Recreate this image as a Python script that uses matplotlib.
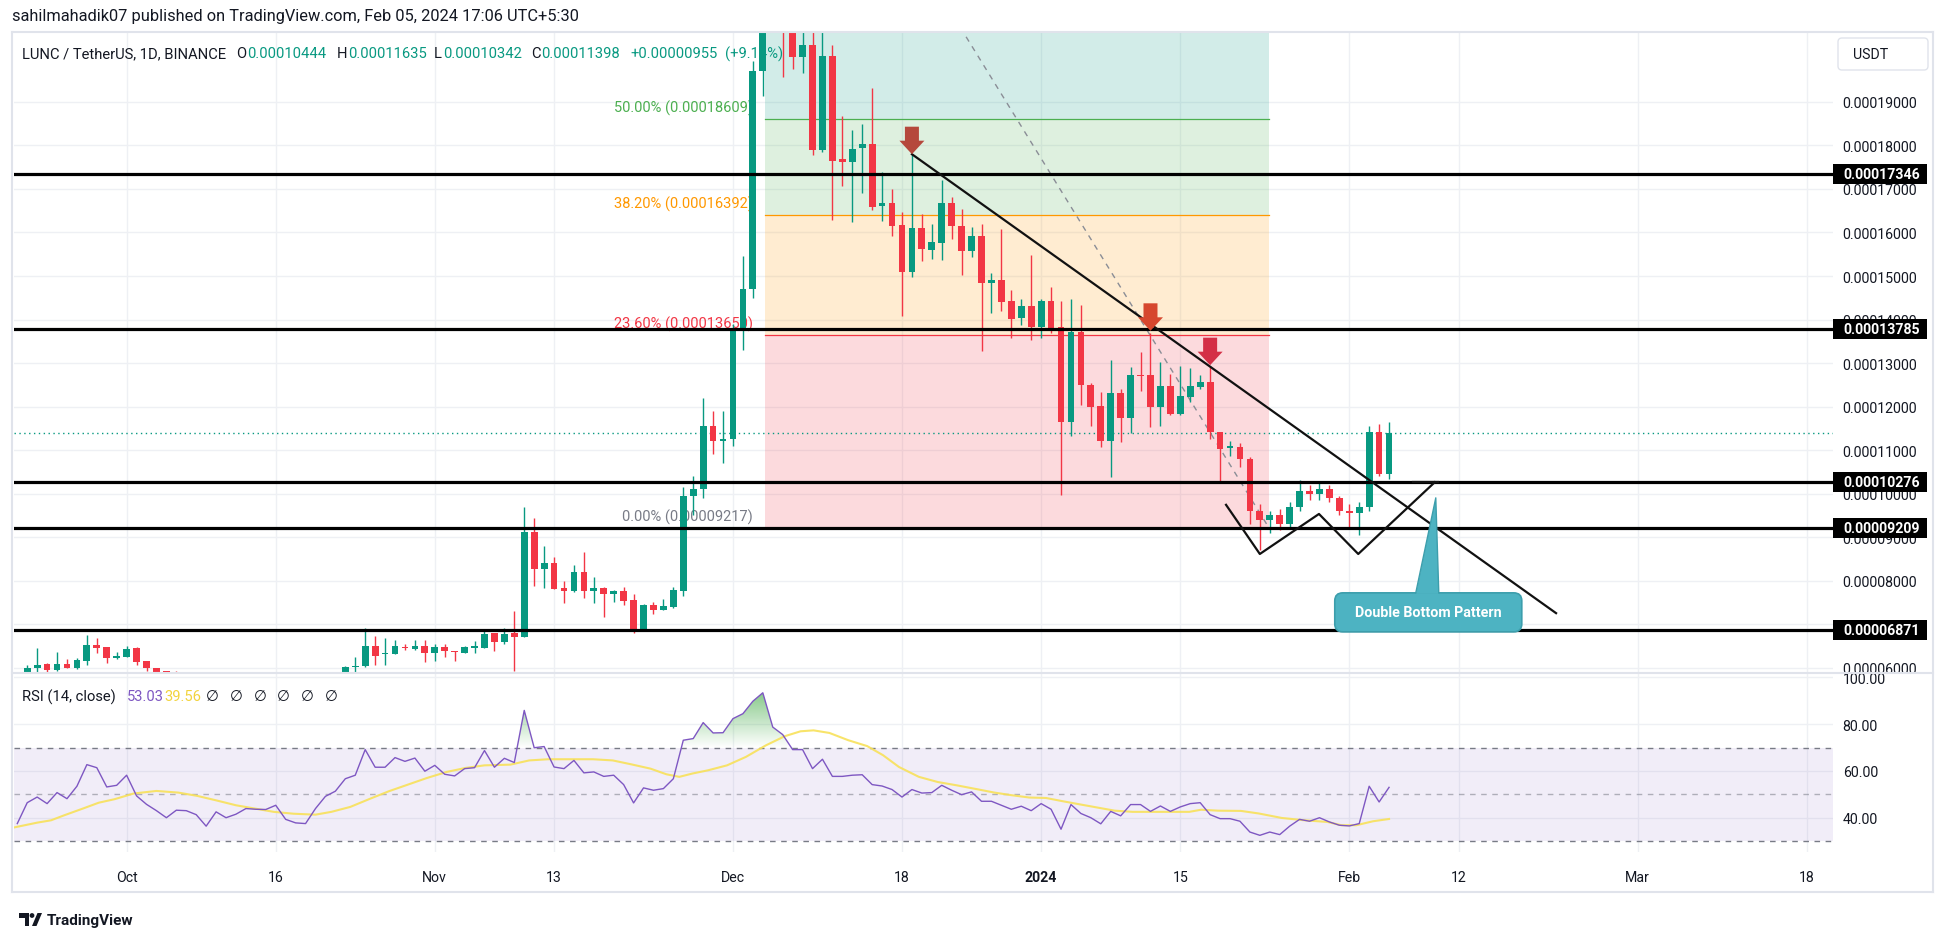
import numpy as np
import pandas as pd
import matplotlib
matplotlib.use("Agg")
import matplotlib.pyplot as plt
import matplotlib.dates as mdates
from matplotlib.patches import Polygon, Rectangle, FancyBboxPatch, Circle
from matplotlib.transforms import IdentityTransform
from matplotlib.path import Path
from matplotlib.colors import to_rgb

plt.rcParams['font.family'] = ['Roboto', 'DejaVu Sans']

# ---------------- data (prices in units of 1e-5 USDT) ----------------
UNIT = 1e-5
seg_a_start, seg_a_len = '2023-09-21', 16          # visible candles before the off-chart dip
seg_b_start, seg_b_end = '2023-10-23', '2024-02-05'

opens = [5.88, 5.98, 6.07, 5.95, 6.08, 5.99, 6.16, 6.52, 6.48, 6.22, 6.25, 6.44, 6.16, 5.99, 5.915, 5.82,
         5.85, 6.01, 6.045, 6.50, 6.30, 6.30, 6.48, 6.43, 6.50, 6.34, 6.47, 6.37, 6.34, 6.46, 6.45, 6.80, 6.59, 6.80,
         6.71, 9.12, 8.275, 8.405, 7.83, 7.75, 8.20, 7.75, 7.83, 7.70, 7.77, 7.555, 6.88, 7.44, 7.33, 7.39,
         7.77, 9.95, 10.10, 11.55, 11.20, 11.25, 13.75, 14.69, 19.71, 23.5, 21.6, 20.9, 20.03, 20.31, 17.90,
         20.06, 17.69, 17.62, 17.94, 18.03, 16.61, 16.68, 16.17, 15.09, 16.10, 15.60, 15.76, 16.68, 16.15, 15.57,
         15.92, 14.84, 14.91, 14.43, 14.03, 14.31, 13.83, 14.43, 13.83, 11.64, 13.71, 12.49, 12.01, 11.21, 12.31,
         11.74, 12.72, 12.72, 11.99, 12.47, 11.83, 12.22, 12.45, 12.56, 11.41, 11.05, 11.07, 10.79, 9.60, 9.40,
         9.50, 9.30, 9.70, 10.05, 9.98, 10.10, 9.90, 9.60, 9.55, 9.70, 11.42, 10.444]
highs = [6.05, 6.44, 6.11, 6.36, 6.20, 6.22, 6.75, 6.68, 6.48, 6.35, 6.49, 6.47, 6.16, 5.99, 5.915, 5.915,
         6.03, 6.24, 6.90, 6.73, 6.68, 6.64, 6.54, 6.64, 6.635, 6.54, 6.54, 6.37, 6.50, 6.62, 6.85, 6.80, 6.91, 7.31,
         9.70, 9.44, 8.80, 8.55, 8.00, 8.35, 8.65, 8.08, 7.85, 7.79, 7.85, 7.69, 7.46, 7.51, 7.585, 7.85,
         10.15, 10.40, 12.20, 11.90, 11.90, 13.90, 15.46, 19.94, 24.0, 24.2, 22.0, 21.2, 20.9, 21.0, 20.8,
         20.31, 18.68, 18.36, 18.49, 19.32, 17.39, 17.00, 16.47, 17.80, 16.43, 16.20, 17.21, 16.82, 16.54, 16.13,
         16.20, 15.07, 16.08, 14.68, 14.47, 15.48, 14.47, 14.75, 14.43, 14.47, 14.33, 12.55, 12.33, 13.07, 12.40,
         12.91, 13.25, 13.69, 13.02, 12.75, 12.93, 12.89, 12.72, 12.93, 11.41, 11.21, 11.15, 10.85, 9.75, 9.60,
         9.65, 9.80, 10.30, 10.20, 10.25, 10.20, 9.95, 9.75, 9.80, 11.55, 11.60, 11.635]
lows = [5.85, 5.85, 5.85, 5.93, 5.98, 5.97, 6.05, 6.34, 6.11, 6.19, 6.25, 6.05, 5.93, 5.80, 5.78, 5.75,
        5.80, 5.88, 6.01, 6.05, 6.05, 6.30, 6.40, 6.40, 6.13, 6.14, 6.25, 6.16, 6.34, 6.34, 6.45, 6.39, 6.54, 5.93,
        6.70, 7.88, 7.83, 7.80, 7.49, 7.74, 7.60, 7.49, 7.17, 7.51, 7.43, 6.80, 6.88, 7.24, 7.33, 7.36,
        7.65, 9.50, 9.90, 10.90, 10.70, 11.10, 13.30, 14.50, 19.14, 21.0, 19.57, 19.76, 19.67, 17.78, 17.85,
        16.29, 17.07, 16.24, 16.91, 16.52, 16.26, 15.92, 14.08, 14.98, 15.34, 15.39, 15.37, 15.85, 15.02, 15.44,
        13.28, 14.15, 14.20, 13.57, 13.87, 13.53, 13.57, 13.69, 9.97, 11.32, 12.03, 11.55, 11.07, 10.38, 11.18,
        11.39, 12.36, 11.53, 11.55, 11.80, 11.80, 12.10, 12.40, 11.25, 10.26, 10.86, 10.60, 9.30, 8.70, 9.10,
        9.15, 9.20, 9.60, 9.85, 9.85, 9.80, 9.50, 9.20, 9.05, 9.60, 10.40, 10.342]
closes = [5.98, 6.06, 5.95, 6.08, 5.99, 6.18, 6.52, 6.45, 6.22, 6.27, 6.43, 6.13, 5.98, 5.85, 5.82, 5.80,
          6.01, 6.045, 6.50, 6.27, 6.31, 6.50, 6.44, 6.50, 6.34, 6.48, 6.37, 6.36, 6.48, 6.47, 6.77, 6.59, 6.77, 6.71,
          9.12, 8.275, 8.405, 7.815, 7.75, 8.20, 7.77, 7.83, 7.70, 7.77, 7.54, 6.88, 7.44, 7.33, 7.42, 7.78,
          9.95, 10.10, 11.55, 11.20, 11.25, 13.75, 14.69, 19.71, 23.5, 21.6, 20.9, 20.03, 20.31, 17.90, 20.06,
          17.64, 17.62, 17.92, 18.03, 16.59, 16.68, 16.15, 15.09, 16.10, 15.62, 15.78, 16.68, 16.15, 15.57, 15.92,
          14.84, 14.91, 14.40, 14.01, 14.31, 13.83, 14.43, 13.80, 11.64, 13.71, 12.49, 11.99, 11.21, 12.31, 11.74,
          12.72, 12.70, 11.99, 12.47, 11.83, 12.24, 12.47, 12.56, 11.41, 11.02, 11.09, 10.79, 9.60, 9.40, 9.50,
          9.30, 9.70, 10.05, 9.98, 10.10, 9.90, 9.60, 9.55, 9.70, 11.42, 10.444, 11.398]

rsi_start, rsi_end = '2023-09-20', '2024-02-05'
rsi_vals = [37.6, 46.5, 48.9, 46.1, 50.8, 48.2, 53.5, 62.7, 61.4, 53.2, 53.9, 58.2, 49.4, 45.8, 43.1, 40.1,
            43.3, 43.1, 41.4, 36.5, 42.6, 40.1, 41.6, 44.0, 43.7, 43.6, 45.4, 39.4, 37.9, 37.6, 44.0, 49.2,
            51.4, 56.7, 58.2, 69.1, 61.6, 61.6, 65.7, 64.1, 65.5, 59.9, 62.4, 58.6, 57.9, 61.0, 61.4, 68.7,
            61.6, 65.4, 63.6, 85.8, 69.9, 70.4, 61.7, 61.0, 64.5, 59.2, 59.6, 57.7, 58.2, 54.2, 46.4, 52.8,
            51.8, 52.5, 56.7, 73.1, 73.8, 80.6, 76.2, 76.3, 82.3, 84.4, 89.7, 93.3, 78.7, 75.5, 69.1, 69.1,
            61.0, 65.0, 57.7, 57.7, 58.2, 58.4, 54.2, 53.6, 52.1, 48.9, 52.1, 50.6, 50.8, 53.9, 51.8, 49.9,
            51.1, 47.1, 47.1, 45.4, 43.7, 45.0, 43.1, 46.1, 43.7, 35.2, 45.7, 41.9, 40.1, 37.5, 42.8, 40.9,
            45.7, 45.7, 42.8, 45.1, 42.8, 44.7, 46.1, 46.5, 41.4, 39.7, 39.7, 38.6, 34.0, 32.6, 34.0, 32.9,
            36.5, 39.4, 38.6, 40.1, 38.3, 36.9, 36.6, 37.6, 53.5, 46.8, 53.03]
# RSI moving average, read at these day offsets from 2023-12-01
ma_day = [-72.5, -70.0, -68.6, -67.3, -65.4, -63.8, -62.2, -60.3, -58.0, -55.8, -53.9, -52.0, -50.0, -48.1,
          -46.2, -44.2, -42.0, -40.4, -38.5, -36.5, -34.6, -32.7, -30.8, -28.8, -26.9, -25.0, -22.4, -20.5,
          -18.6, -16.0, -14.1, -12.1, -10.2, -8.3, -6.7, -5.4, -4.1, -2.5, -0.6, 1.3, 3.3, 5.2, 6.8, 8.1, 9.7,
          11.6, 13.5, 15.1, 16.7, 18.7, 20.6, 22.5, 24.6, 26.3, 28.0, 29.8, 31.5, 33.2, 35.0, 36.7, 38.4,
          40.2, 41.9, 43.6, 45.9, 47.1, 48.8, 51.1, 52.9, 55.2, 57.5, 59.8, 61.2, 62.7, 64.4, 66.0]
ma_val = [35.8, 38.0, 39.0, 41.1, 44.0, 46.5, 48.0, 50.4, 51.5, 50.8, 49.4, 47.5, 45.4, 44.0, 42.6, 41.8,
          41.4, 42.6, 44.7, 48.2, 51.4, 54.2, 57.0, 59.6, 61.3, 62.4, 62.7, 64.5, 65.0, 65.0, 65.0, 64.5, 62.8,
          61.0, 58.6, 57.5, 58.9, 60.3, 62.4, 66.0, 70.9, 74.8, 76.9, 77.3, 76.2, 73.1, 70.6, 66.7, 61.7, 57.5,
          55.3, 53.9, 52.2, 50.8, 49.7, 48.7, 48.5, 47.1, 45.7, 44.4, 43.1, 42.6, 42.6, 42.6, 42.6, 43.5, 43.1,
          43.0, 41.9, 40.0, 39.0, 38.3, 36.9, 36.9, 38.6, 39.56]

h_levels = [17.346, 13.785, 10.276, 9.209, 6.871]
h_labels = ['0.00017346', '0.00013785', '0.00010276', '0.00009209', '0.00006871']
last_price = 11.398

fib_pct = ['0.00%', '23.60%', '38.20%', '50.00%', '61.80%']
fib_price = [9.217, 13.650, 16.392, 18.609, 20.825]
fib_colors = ['#787b86', '#f23645', '#ff9800', '#4caf50', '#089981']
fib_hi = 28.001                     # 100% level (off the top of the chart)
fib_x = [3.2, 53.9]                 # day offsets from 2023-12-01

trend_day = [18.0, 82.8]
trend_p = [17.80, 7.25]
w_day = [49.6, 53.0, 58.95, 62.9, 70.6]
w_p = [9.74, 8.61, 9.53, 8.61, 10.26]
arrow_day = [18, 42, 48]
arrow_p = [17.80, 13.74, 12.95]
arrow_col = ['#b5483c', '#d6472e', '#d42f46']
callout_tip = (70.7, 9.90)

tick_dates = ['2023-10-01', '2023-10-16', '2023-11-01', '2023-11-13', '2023-12-01', '2023-12-18',
              '2024-01-01', '2024-01-15', '2024-02-01', '2024-02-12', '2024-03-01', '2024-03-18']
tick_labels = ['Oct', '16', 'Nov', '13', 'Dec', '18', '2024', '15', 'Feb', '12', 'Mar', '18']
price_ticks = [6, 7, 8, 9, 10, 11, 12, 13, 14, 15, 16, 17, 18, 19]

# ---------------- figure ----------------
W, H = 1946, 937
fig = plt.figure(figsize=(W / 100, H / 100), dpi=100)
fig.patch.set_facecolor('white')
DARK = '#131722'
GRID = '#eef0f4'
GREEN = '#089981'
RED = '#f23645'

L_PX, R_PX = 14, 1833
ax = fig.add_axes([L_PX / W, 1 - 673 / H, (R_PX - L_PX) / W, (673 - 34) / H])
ax2 = fig.add_axes([L_PX / W, 1 - 853 / H, (R_PX - L_PX) / W, (853 - 675) / H], sharex=ax)

base = mdates.date2num(pd.Timestamp('2023-12-01'))
xmin, xmax = base - 72.33, base + 110.66
dates = pd.date_range(seg_a_start, periods=seg_a_len).append(pd.date_range(seg_b_start, seg_b_end))
x = mdates.date2num(dates)
O = np.array(opens) * UNIT
Hh = np.array(highs) * UNIT
Lw = np.array(lows) * UNIT
C = np.array(closes) * UNIT

for a in (ax, ax2):
    a.set_facecolor('white')
    for s in a.spines.values():
        s.set_visible(False)
    a.set_xlim(xmin, xmax)
ax.set_ylim(5.897 * UNIT, 20.586 * UNIT)
ax2.set_ylim(25.5, 101.3)

tx = mdates.date2num(pd.to_datetime(tick_dates))
for a in (ax, ax2):
    for t in tx:
        a.axvline(t, color=GRID, lw=1, zorder=0)
for p in price_ticks:
    ax.axhline(p * UNIT, color=GRID, lw=1, zorder=0)
for r in (40, 60, 80, 100):
    ax2.axhline(r, color=GRID, lw=1, zorder=0)

# price axis ticks
ax.yaxis.tick_right()
ax.set_yticks([p * UNIT for p in price_ticks])
ax.set_yticklabels([f'{p * UNIT:.8f}' for p in price_ticks])
ax.tick_params(axis='y', length=0, pad=7, labelsize=10.2, labelcolor=DARK)
ax.tick_params(axis='x', length=0, labelbottom=False)

# fib zones
fx0, fx1 = base + fib_x[0], base + fib_x[1]
for i in range(len(fib_price) - 1):
    ax.fill_between([fx0, fx1], fib_price[i] * UNIT, fib_price[i + 1] * UNIT,
                    color=fib_colors[i + 1], alpha=0.18, lw=0, zorder=1)
for i in range(len(fib_price) - 1):
    ax.plot([fx0, fx1], [fib_price[i] * UNIT] * 2, color=fib_colors[i], lw=0.9, zorder=1.5)
    ax.annotate(f'{fib_pct[i]} ({fib_price[i] * UNIT:.8f})', xy=(fx0, fib_price[i] * UNIT),
                xytext=(-12, 4), textcoords='offset pixels', ha='right', va='bottom',
                fontsize=10.5, color=fib_colors[i], zorder=1.6)
ax.plot([fx0, fx1], [fib_hi * UNIT, fib_price[0] * UNIT], color='#8a8d96', lw=1,
        dashes=(4, 4), zorder=1.7)

# current price dotted line
ax.axhline(last_price * UNIT, color=GREEN, lw=1, ls=(0, (1, 2.5)), zorder=1.8)

# candles
up = C >= O
cols = np.where(up, GREEN, RED)
ax.vlines(x, Lw, Hh, colors=cols, lw=1.0, zorder=3)
minh = 0.03 * UNIT
ax.bar(x, np.maximum(np.abs(C - O), minh), bottom=np.minimum(O, C), width=0.68,
       color=cols, lw=0, zorder=3.1)

# horizontal levels
for p in h_levels:
    ax.axhline(p * UNIT, color='black', lw=2.3, zorder=4)

# trend line, W
ax.plot([base + d for d in trend_day], [p * UNIT for p in trend_p], color='#111111', lw=1.6, zorder=4.2)
ax.plot([base + d for d in w_day], [p * UNIT for p in w_p], color='#111111', lw=1.6, zorder=4.2)
ax.plot([base + 68.4, base + 70.9], [10.26 * UNIT] * 2, color='#111111', lw=1.6, zorder=4.2)

# need the transforms fixed before drawing pixel-sized markers
fig.canvas.draw()

def disp(a, d, p):
    return a.transData.transform((base + d, p))

for d, p, c in zip(arrow_day, arrow_p, arrow_col):
    X, Y = disp(ax, d, p * UNIT)
    shape = [(0, 0), (12.5, 13.5), (7, 13.5), (7, 27.5), (-7, 27.5), (-7, 13.5), (-12.5, 13.5)]
    ax.add_patch(Polygon([(X + a, Y + b) for a, b in shape], closed=True, transform=IdentityTransform(),
                         facecolor=c, edgecolor='none', zorder=5))

# callout
X, Y = disp(ax, callout_tip[0], callout_tip[1] * UNIT)
box = FancyBboxPatch((X - 101, Y - 134), 187, 39, boxstyle='round,pad=0,rounding_size=8',
                     transform=IdentityTransform(), facecolor='#4db3c2', edgecolor='#3c9eac', lw=1.2,
                     zorder=6, clip_on=False)
ax.add_patch(box)
ax.add_patch(Polygon([(X - 20, Y - 96), (X + 3, Y - 96), (X, Y)], closed=True, transform=IdentityTransform(),
                     facecolor='#4db3c2', edgecolor='none', zorder=6.1, clip_on=False))
ax.plot([X - 20, X, X + 3], [Y - 95, Y, Y - 95], transform=IdentityTransform(), color='#3c9eac', lw=1,
        zorder=6.2)
ax.text(X - 7.5, Y - 114.5, 'Double Bottom Pattern', transform=IdentityTransform(), ha='center',
        va='center', color='white', fontsize=10.3, fontweight='bold', zorder=7)

# level label boxes on the price axis
for p, lab in zip(h_levels, h_labels):
    _, Yp = disp(ax, 0, p * UNIT)
    r = Rectangle((1833, Yp - 10), 94, 20, transform=IdentityTransform(), facecolor='black',
                  edgecolor='none', zorder=10, clip_on=False)
    ax.add_patch(r)
    ax.text(1843, Yp, lab, transform=IdentityTransform(), ha='left', va='center', color='white',
            fontsize=10.2, fontweight='bold', zorder=11, clip_on=False)

# header texts
def place(a, y0, pieces, size, z=2.5):
    r = fig.canvas.get_renderer()
    for xp, s, c in pieces:
        if xp is None:
            xp = last.get_window_extent(r).x1 + 1
        last = a.text(xp, y0, s, transform=IdentityTransform(), ha='left', va='center', color=c,
                      fontsize=size, zorder=z, clip_on=False)

place(ax, H - 54, [(22, 'LUNC / TetherUS, 1D, BINANCE', DARK),
                   (236, 'O', DARK), (None, '0.00010444', GREEN),
                   (337, 'H', DARK), (None, '0.00011635', GREEN),
                   (434, 'L', DARK), (None, '0.00010342', GREEN),
                   (531, 'C', DARK), (None, '0.00011398', GREEN),
                   (630, '+0.00000955', GREEN), (725, '(+9.14%)', GREEN)], 10.6)
fig.text(12 / W, 1 - 16 / H, 'sahilmahadik07 published on TradingView.com, Feb 05, 2024 17:06 UTC+5:30',
         ha='left', va='center', fontsize=11.8, color=DARK)

# USDT box
fig.add_artist(FancyBboxPatch((1838, H - 71), 90, 32, boxstyle='round,pad=0,rounding_size=4',
                              transform=IdentityTransform(), facecolor='white', edgecolor='#e0e3eb', lw=1))
fig.text(1853, H - 55, 'USDT', transform=IdentityTransform(), ha='left', va='center', fontsize=10.2,
         color=DARK)

# ---------------- RSI panel ----------------
rdates = mdates.date2num(pd.date_range(rsi_start, rsi_end))
rsi = np.array(rsi_vals)
ax2.axhspan(30, 70, color='#7e57c2', alpha=0.1, lw=0, zorder=0.5)
for lv, al in ((70, 1.0), (50, 0.55), (30, 1.0)):
    ax2.axhline(lv, color='#787b86', lw=1, dashes=(4, 4), alpha=al, zorder=1)
poly = ax2.fill_between(rdates, rsi, 70, where=rsi >= 70, interpolate=True, facecolor='none',
                        edgecolor='none')
paths = poly.get_paths()
if paths:
    cp = Path.make_compound_path(*paths)
    grad = np.zeros((256, 1, 4))
    grad[..., :3] = to_rgb('#4caf50')
    grad[:, 0, 3] = np.linspace(0.0, 0.85, 256)
    im = ax2.imshow(grad, extent=(rdates[0], rdates[-1], 70, 100), origin='lower', aspect='auto',
                    zorder=1.5, interpolation='bilinear')
    im.set_clip_path(cp, ax2.transData)
ax2.plot(base + np.array(ma_day), ma_val, color='#f8e15a', lw=1.5, alpha=0.9, zorder=2)
ax2.plot(rdates, rsi, color='#7e57c2', lw=1.0, zorder=3)
ax2.set_xlim(xmin, xmax)
ax2.set_ylim(25.5, 101.3)

ax2.yaxis.tick_right()
ax2.set_yticks([40, 60, 80, 100])
ax2.set_yticklabels(['40.00', '60.00', '80.00', '100.00'])
ax2.tick_params(axis='y', length=0, pad=7, labelsize=10.2, labelcolor=DARK)
ax2.set_xticks(tx)
ax2.set_xticklabels(tick_labels)
ax2.tick_params(axis='x', length=0, pad=13, labelsize=10.2, labelcolor=DARK)
for lbl in ax2.get_xticklabels():
    if lbl.get_text() == '2024':
        lbl.set_fontweight('bold')

place(ax2, H - 697, [(22, 'RSI (14, close)', DARK), (127, '53.03', '#7e57c2'), (164, '39.56', '#f2d33d')]
      + [(206 + 23.7 * k, '\u2205', DARK) for k in range(6)], 10.6, z=8)

# frame lines
for (x0, y0, x1, y1) in [(12, 33, 1933, 33), (12, 33, 12, 893), (1933, 33, 1933, 893), (12, 893, 1933, 893),
                         (12, 674, 1933, 674)]:
    fig.add_artist(plt.Line2D([x0, x1], [H - y0, H - y1], transform=IdentityTransform(), color='#e0e3eb',
                              lw=1.5))

# footer logo + text
fig.add_artist(Polygon([(19, H - 914), (29, H - 914), (29, H - 927), (24.5, H - 927), (24.5, H - 918.5),
                        (19, H - 918.5)], closed=True, transform=IdentityTransform(), facecolor=DARK))
fig.add_artist(Circle((32, H - 916.5), 2.4, transform=IdentityTransform(), facecolor=DARK))
fig.add_artist(Polygon([(32, H - 927), (37.5, H - 914), (42, H - 914), (36.5, H - 927)], closed=True,
                       transform=IdentityTransform(), facecolor=DARK))
fig.text(47, H - 921, 'TradingView', transform=IdentityTransform(), ha='left', va='center', fontsize=11,
         fontweight='bold', color=DARK)

fig.savefig('out.png', dpi=100)
